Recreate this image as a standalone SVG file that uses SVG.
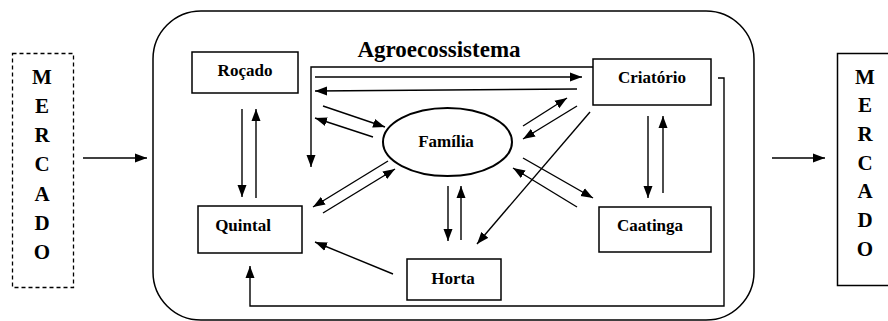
<svg xmlns="http://www.w3.org/2000/svg" width="888" height="321" viewBox="0 0 888 321">
<style>
.box{fill:#fff;stroke:#000;stroke-width:1.5}
.lbl{font-family:"Liberation Serif","Times New Roman",serif;font-weight:bold;font-size:17px;fill:#000;text-anchor:middle}
.big{font-family:"Liberation Serif","Times New Roman",serif;font-weight:bold;font-size:21px;fill:#000;text-anchor:middle}
.c{fill:none;stroke:#000;stroke-width:1.4;marker-end:url(#ah)}
.n{fill:none;stroke:#000;stroke-width:1.4}
</style>
<defs>
<marker id="ah" markerUnits="userSpaceOnUse" markerWidth="13" markerHeight="10" refX="12" refY="5" orient="auto">
<path d="M0,0.5 L12,5 L0,9.5 z" fill="#000"/>
</marker>
</defs>
<rect width="888" height="321" fill="#fff"/>
<g id="frame">
<rect x="153" y="11" width="601" height="309" rx="48" ry="48" fill="none" stroke="#000" stroke-width="1.5"/>
<text x="439" y="57" class="big" style="font-size:23px">Agroecossistema</text>
</g>
<g id="mercado-left">
<rect x="12.5" y="53.5" width="61" height="234" fill="none" stroke="#000" stroke-width="1.3" stroke-dasharray="4,3"/>
<text class="big" x="42" y="84">M</text>
<text class="big" x="42" y="113">E</text>
<text class="big" x="42" y="142">R</text>
<text class="big" x="42" y="171">C</text>
<text class="big" x="42" y="201">A</text>
<text class="big" x="42" y="230">D</text>
<text class="big" x="42" y="259">O</text>
</g>
<g id="mercado-right">
<rect x="837.5" y="53.5" width="52" height="232" fill="none" stroke="#000" stroke-width="1.5"/>
<text class="big" x="865" y="84">M</text>
<text class="big" x="865" y="112">E</text>
<text class="big" x="865" y="141">R</text>
<text class="big" x="865" y="170">C</text>
<text class="big" x="865" y="198">A</text>
<text class="big" x="865" y="227">D</text>
<text class="big" x="865" y="256">O</text>
</g>
<g id="rocado">
<rect class="box" x="192" y="52" width="106" height="41"/>
<text class="lbl" x="245" y="76">Roçado</text>
</g>
<g id="criatorio">
<rect class="box" x="593" y="59" width="118" height="46"/>
<text class="lbl" x="652" y="83">Criatório</text>
</g>
<g id="familia">
<ellipse cx="447.5" cy="142" rx="64.5" ry="34" fill="#fff" stroke="#000" stroke-width="2"/>
<text class="lbl" x="446" y="147">Família</text>
</g>
<g id="quintal">
<rect class="box" x="198" y="206" width="104" height="47"/>
<text class="lbl" x="243" y="231">Quintal</text>
</g>
<g id="caatinga">
<rect class="box" x="599" y="207" width="112" height="45"/>
<text class="lbl" x="650" y="231">Caatinga</text>
</g>
<g id="horta">
<rect class="box" x="407" y="259" width="94" height="41"/>
<text class="lbl" x="453" y="284">Horta</text>
</g>
<g id="connectors">
<line class="c" x1="83" y1="158" x2="147" y2="158"/>
<line class="c" x1="772" y1="158" x2="825" y2="158"/>
<line class="c" x1="242" y1="109" x2="242" y2="197"/>
<line class="c" x1="256" y1="198" x2="256" y2="109"/>
<path class="c" d="M593,67 H311 V167"/>
<line class="c" x1="315" y1="77" x2="582" y2="77"/>
<line class="c" x1="577" y1="89" x2="315" y2="91"/>
<line class="c" x1="323" y1="106" x2="385" y2="127"/>
<line class="c" x1="373" y1="137" x2="315" y2="118"/>
<line class="c" x1="388" y1="161" x2="313" y2="207"/>
<line class="c" x1="323" y1="213" x2="395" y2="169"/>
<line class="c" x1="523" y1="126" x2="567" y2="98"/>
<line class="c" x1="577" y1="106" x2="523" y2="139"/>
<line class="c" x1="523" y1="158" x2="593" y2="198"/>
<line class="c" x1="577" y1="207" x2="513" y2="168"/>
<line class="c" x1="590" y1="112" x2="477" y2="244"/>
<line class="c" x1="448" y1="186" x2="448" y2="241"/>
<line class="c" x1="461" y1="240" x2="461" y2="186"/>
<line class="c" x1="648" y1="116" x2="648" y2="198"/>
<line class="c" x1="663" y1="193" x2="663" y2="116"/>
<line class="c" x1="393" y1="274" x2="315" y2="242"/>
<path class="c" d="M718,78 H724 V306 H250 V266"/>
</g>
</svg>
